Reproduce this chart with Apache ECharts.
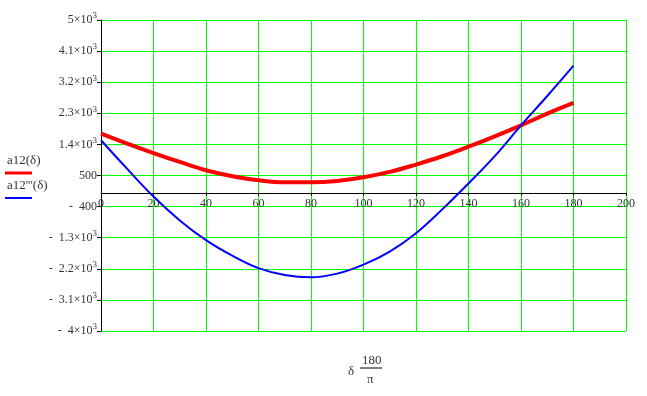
<!DOCTYPE html>
<html><head><meta charset="utf-8">
<script src="https://cdn.jsdelivr.net/npm/echarts@6/dist/echarts.min.js"></script>
<style>html,body{margin:0;padding:0;background:#fff}#c{width:647px;height:396px}</style>
</head><body><div id="c"></div>
<script>
const deltaDeg = [0,10,20,30,40,50,60,70,80,90,100,110,120,130,140,150,160,170,180];
const a12 = [1713,1424,1150,893,653,480,364,306,306,344,451,604,817,1057,1335,1635,1953,2291,2600];
const a12ppp = [1520,690,-110,-800,-1370,-1820,-2180,-2380,-2445,-2340,-2080,-1700,-1170,-480,270,1060,1950,2800,3680];
const yTickLabels = {
  '5000':'5×10{s|3}','4100':'4.1×10{s|3}','3200':'3.2×10{s|3}','2300':'2.3×10{s|3}','1400':'1.4×10{s|3}',
  '500':'500','-400':'-  400','-1300':'-  1.3×10{s|3}','-2200':'-  2.2×10{s|3}','-3100':'-  3.1×10{s|3}','-4000':'-  4×10{s|3}'
};
const legendNames = ['a12(δ)', "a12'''(δ)"];
const serif = '"Liberation Serif","DejaVu Serif",serif';
const W = 647, H = 396, gTop = 20, gBottom = 65, yMin = -4000, yMax = 5000;
const plotH = H - gTop - gBottom;
const zeroOffset = -plotH * (0 - yMin) / (yMax - yMin);
const chart = echarts.init(document.getElementById('c'));
chart.setOption({
  animation:false,
  grid:{left:101,right:21,top:gTop,bottom:gBottom,containLabel:false},
  xAxis:{type:'value',min:0,max:200,interval:20,offset:zeroOffset,
    axisLine:{onZero:false,lineStyle:{color:'#000',width:1}},
    axisTick:{show:true,length:3,lineStyle:{color:'#000'}},
    axisLabel:{color:'#333',fontFamily:serif,fontSize:12,margin:5},
    splitLine:{show:true,lineStyle:{color:'#00ff00',width:1}}},
  yAxis:{type:'value',min:yMin,max:yMax,interval:900,
    axisLine:{show:true,lineStyle:{color:'#000',width:1}},
    axisTick:{show:true,length:4,lineStyle:{color:'#000'}},
    axisLabel:{color:'#333',fontFamily:serif,fontSize:12,margin:4,
      formatter:v=>yTickLabels[String(Math.round(v))]||'',
      rich:{s:{fontSize:9,fontFamily:serif,color:'#333',padding:[0,0,8,0]}}},
    splitLine:{show:true,lineStyle:{color:'#00ff00',width:1}}},
  series:[
    {name:legendNames[0],type:'line',data:deltaDeg.map((x,i)=>[x,a12[i]]),smooth:0.4,showSymbol:false,
      lineStyle:{color:'#ff0000',width:4},z:3},
    {name:legendNames[1],type:'line',data:deltaDeg.map((x,i)=>[x,a12ppp[i]]),smooth:0.4,showSymbol:false,
      lineStyle:{color:'#0000ff',width:2},z:4}
  ],
  graphic:[
    {type:'text',left:7,top:154,style:{text:legendNames[0],font:'13px '+serif,fill:'#333'}},
    {type:'line',shape:{x1:5,y1:173,x2:32,y2:173},style:{stroke:'#ff0000',lineWidth:3}},
    {type:'text',left:7,top:179,style:{text:legendNames[1],font:'13px '+serif,fill:'#333'}},
    {type:'line',shape:{x1:5,y1:198,x2:32,y2:198},style:{stroke:'#0000ff',lineWidth:2}},
    {type:'text',x:348,y:365,style:{text:'δ',font:'13px '+serif,fill:'#333'}},
    {type:'text',x:362,y:354,style:{text:'180',font:'13px '+serif,fill:'#333'}},
    {type:'line',shape:{x1:360,y1:368,x2:382,y2:368},style:{stroke:'#000',lineWidth:1}},
    {type:'text',x:367,y:373,style:{text:'π',font:'13px '+serif,fill:'#333'}}
  ]
});
</script></body></html>
